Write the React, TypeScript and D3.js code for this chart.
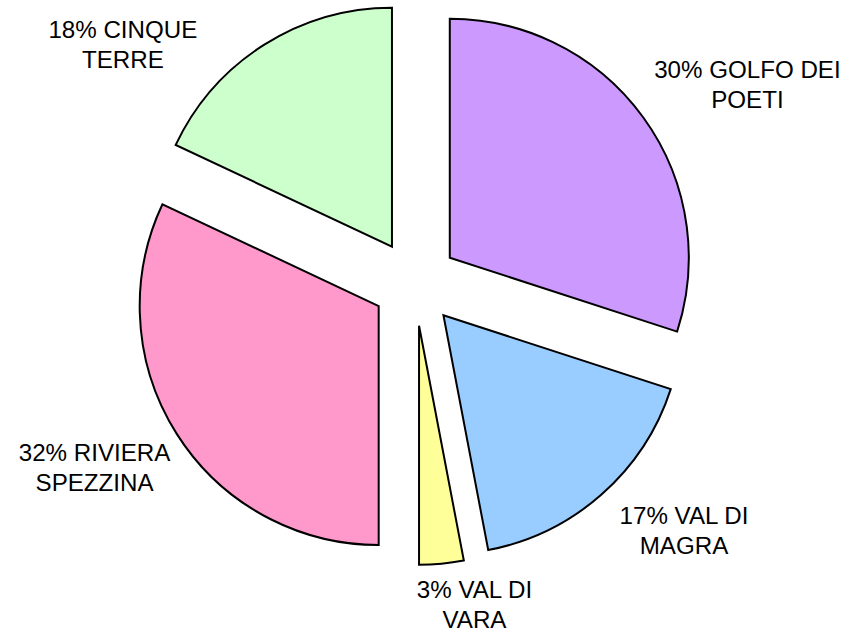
import React, { useEffect, useRef } from 'react';
import * as d3 from 'd3';

// slices, clockwise from 12 o'clock
const categories = ['GOLFO DEI POETI', 'VAL DI MAGRA', 'VAL DI VARA', 'RIVIERA SPEZZINA', 'CINQUE TERRE'];
const values = [30, 17, 3, 32, 18];
const colors = ['#CC99FF', '#99CCFF', '#FFFF99', '#FF99CC', '#CCFFCC'];

// label placement relative to slice mid-angle (degrees nudge, distance from pie centre)
const labelLayout = [
    { nudge: 5.2, dist: 387 },
    { nudge: -5.9, dist: 366 },
    { nudge: -5.05, dist: 328 },
    { nudge: 2.4, dist: 370 },
    { nudge: -18.4, dist: 377 }
];

const width = 850, height = 632;
const cx = 415, cy = 283, radius = 239, explode = 43;

function wrap(text: string, max: number) {
    const words = text.split(' ');
    const lines: string[] = [];
    let cur = '';
    words.forEach(w => {
        const next = cur ? cur + ' ' + w : w;
        if (next.length > max && cur) {
            lines.push(cur);
            cur = w;
        } else {
            cur = next;
        }
    });
    if (cur) lines.push(cur);
    return lines;
}

export default function App() {
    const ref = useRef<SVGSVGElement>(null);

    useEffect(() => {
        const svg = d3.select(ref.current);
        svg.selectAll('*').remove();

        const data = categories.map((c, i) => ({ name: c, value: values[i], color: colors[i], i }));
        const totals = d3.sum(values);
        const pie = d3.pie<any>().sort(null).value(d => d.value);
        const arc = d3.arc<any>().innerRadius(0).outerRadius(radius);
        const arcs = pie(data);

        const g = svg.append('g').attr('transform', 'translate(' + cx + ',' + cy + ')');

        // exploded slices
        g.selectAll('path.slice')
            .data(arcs)
            .enter()
            .append('path')
            .attr('class', 'slice')
            .attr('transform', function (d) {
                const mid = (d.startAngle + d.endAngle) / 2;
                return 'translate(' + (explode * Math.sin(mid)) + ',' + (-explode * Math.cos(mid)) + ')';
            })
            .attr('d', arc)
            .attr('fill', d => d.data.color)
            .attr('stroke', '#000')
            .attr('stroke-width', 2)
            .attr('stroke-linejoin', 'miter');

        // labels
        g.selectAll('text.lbl')
            .data(arcs)
            .enter()
            .append('text')
            .attr('class', 'lbl')
            .attr('text-anchor', 'middle')
            .attr('font-family', '"Liberation Sans", Arial, sans-serif')
            .attr('font-size', 23)
            .attr('fill', '#000')
            .each(function (d, i) {
                const mid = (d.startAngle + d.endAngle) / 2 + labelLayout[i].nudge * Math.PI / 180;
                const x = labelLayout[i].dist * Math.sin(mid);
                const y = -labelLayout[i].dist * Math.cos(mid);
                const pct = Math.round(d.data.value / totals * 100);
                const lines = wrap(pct + '% ' + d.data.name, 13);
                const t = d3.select(this)
                    .attr('transform', 'translate(' + x + ',' + y + ') scale(1.05,1)');
                lines.forEach((l, k) => {
                    t.append('tspan')
                        .attr('x', 0)
                        .attr('y', (k - (lines.length - 1) / 2) * 30)
                        .attr('dominant-baseline', 'central')
                        .text(l);
                });
            });
    }, []);

    return (
        <svg
            ref={ref}
            width={width}
            height={height}
            style={{ position: 'absolute', left: 0, top: 0, background: '#fff' }}
        />
    );
}
